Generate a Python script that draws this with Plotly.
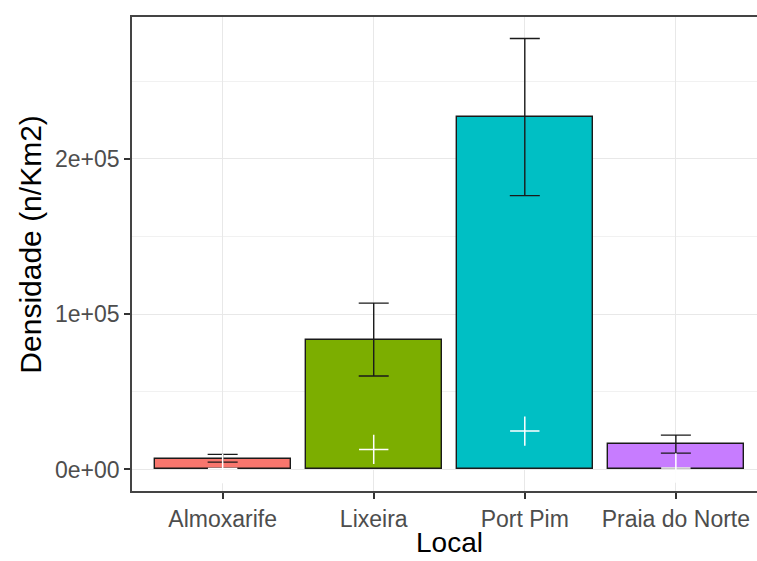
import plotly.graph_objects as go

# Density per site (n/Km2): bar heights, error-bar limits and marker values
locais = ["Almoxarife", "Lixeira", "Port Pim", "Praia do Norte"]
densidade = [6900, 83400, 226900, 16100]
limite_sup = [9700, 107100, 277400, 22100]
limite_inf = [4700, 60200, 176300, 10500]
marcador = [600, 12900, 24700, 900]
cores = ["#F8766D", "#7CAE00", "#00BFC4", "#C77CFF"]

y_ticks = [0, 100000, 200000]
y_tick_text = ["0e+00", "1e+05", "2e+05"]

err_plus = [u - d for u, d in zip(limite_sup, densidade)]
err_minus = [d - l for d, l in zip(densidade, limite_inf)]

xpos = list(range(len(locais)))

fig = go.Figure()

fig.add_trace(go.Bar(
    x=xpos, y=densidade, width=0.9,
    marker=dict(color=cores, line=dict(color="#1a1a1a", width=1.4)),
    showlegend=False, hoverinfo="skip",
))

fig.add_trace(go.Scatter(
    x=xpos, y=densidade, mode="markers",
    marker=dict(size=0.1, color="rgba(0,0,0,0)"),
    error_y=dict(type="data", symmetric=False, array=err_plus,
                 arrayminus=err_minus, color="#1a1a1a", thickness=1.4, width=15),
    showlegend=False, hoverinfo="skip",
))

fig.add_trace(go.Scatter(
    x=xpos, y=marcador, mode="markers",
    marker=dict(symbol="cross-thin", size=21, color="white",
                line=dict(color="white", width=1.5)),
    showlegend=False, hoverinfo="skip",
))

top = max(limite_sup) * 1.05
bottom = -max(limite_sup) * 0.05

fig.update_layout(
    width=757, height=561,
    margin=dict(l=132, r=0, t=17, b=70),
    paper_bgcolor="white", plot_bgcolor="white",
    font=dict(family="Liberation Sans, Arial, sans-serif", color="black"),
    bargap=0,
    xaxis=dict(
        range=[-0.6, 3.537],
        tickmode="array", tickvals=xpos, ticktext=locais,
        tickfont=dict(size=23, color="#4D4D4D"),
        ticks="outside", ticklen=6, tickwidth=1.5, tickcolor="#333333",
        showgrid=True, gridcolor="#E8E8E8", gridwidth=1.3,
        showline=True, linecolor="#444444", linewidth=1.8, mirror=True,
        zeroline=False,
    ),
    yaxis=dict(
        range=[bottom, top],
        tickmode="array", tickvals=y_ticks, ticktext=y_tick_text,
        tickfont=dict(size=23, color="#4D4D4D"),
        ticks="outside", ticklen=6, tickwidth=1.5, tickcolor="#333333",
        showgrid=True, gridcolor="#E8E8E8", gridwidth=1.3,
        minor=dict(showgrid=True, gridcolor="#F1F1F1", gridwidth=0.9,
                   tickvals=[50000, 150000, 250000]),
        showline=True, linecolor="#444444", linewidth=1.8,
        zeroline=False,
    ),
    annotations=[
        dict(text="Local", x=0.508, y=-0.1097, xref="paper", yref="paper",
             xanchor="center", yanchor="middle", showarrow=False,
             font=dict(size=28, color="black")),
        dict(text="Densidade (n/Km2)", x=-0.163, y=0.52, xref="paper",
             yref="paper", xanchor="center", yanchor="middle", textangle=-90,
             showarrow=False, font=dict(size=30, color="black")),
    ],
)

fig.write_html("out.html")
